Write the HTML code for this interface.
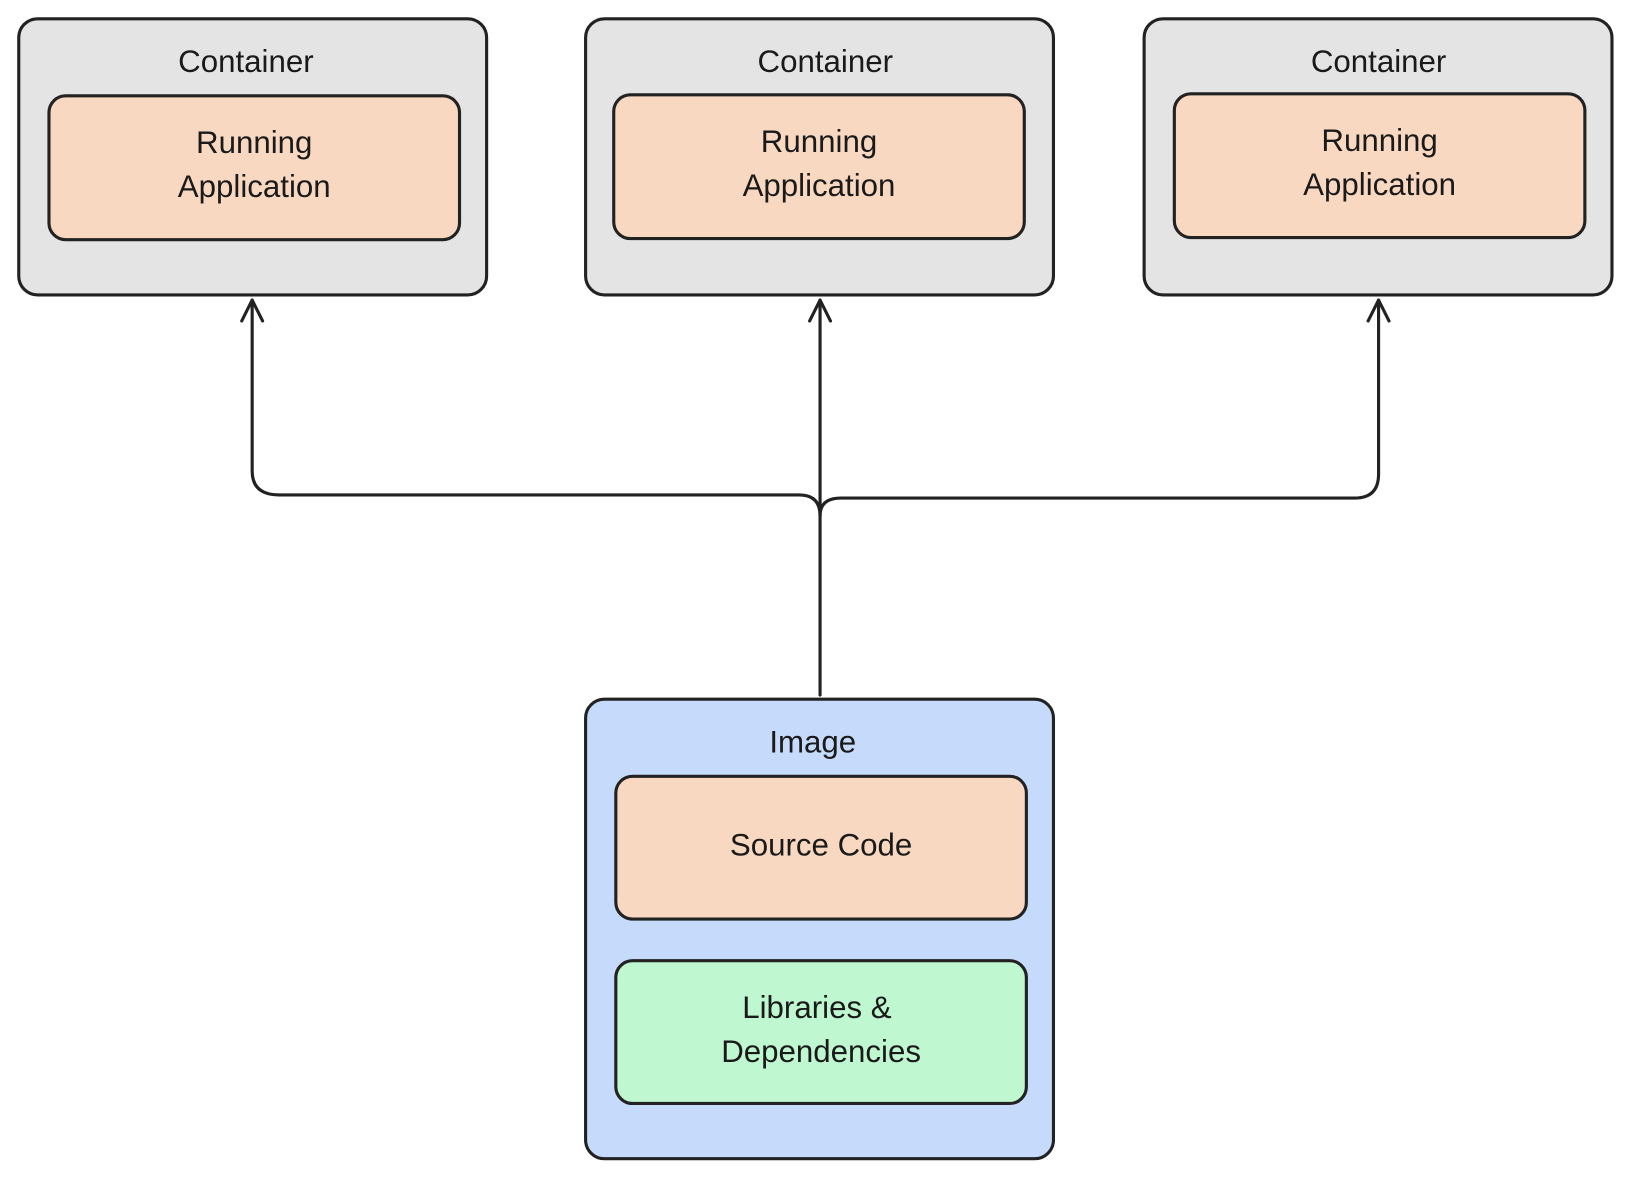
<!DOCTYPE html>
<html><head><meta charset="utf-8"><style>
html,body{margin:0;padding:0;background:#fff;}
svg{display:block;}
text{font-family:"Liberation Sans",sans-serif;font-size:30px;fill:#1a1a1a;text-anchor:middle;}
</style></head><body>
<svg width="1634" height="1181" viewBox="0 0 1634 1181" xmlns="http://www.w3.org/2000/svg">
<g transform="scale(1.042)">
<g stroke="#222" stroke-width="3" stroke-linejoin="round">
<rect x="18" y="18" width="449" height="265" rx="18" fill="#e4e4e4"/>
<rect x="562" y="18" width="449" height="265" rx="18" fill="#e4e4e4"/>
<rect x="1098" y="18" width="449" height="265" rx="18" fill="#e4e4e4"/>
<rect x="47" y="92" width="394" height="138" rx="16" fill="#f8d8c1"/>
<rect x="589" y="91" width="394" height="138" rx="16" fill="#f8d8c1"/>
<rect x="1127" y="90" width="394" height="138" rx="16" fill="#f8d8c1"/>
<rect x="562" y="671" width="449" height="441" rx="18" fill="#c6dbfb"/>
<rect x="591" y="745" width="394" height="137" rx="16" fill="#f8d8c1"/>
<rect x="591" y="922" width="394" height="137" rx="16" fill="#bef7d0"/>
</g>
<g stroke="#222" stroke-width="3" fill="none" stroke-linecap="round" stroke-linejoin="round">
<path d="M787 667 L787 495"/>
<path d="M787 495 Q787 475 767 475 L268 475 Q242 475 242 452 L242 288"/>
<path d="M787 495 Q787 478 807 478 L1300 478 Q1323 478 1323 455 L1323 288"/>
<path d="M787 495 L787 288"/>
<path d="M232 308 L242 288 L252 308"/>
<path d="M777 308 L787 288 L797 308"/>
<path d="M1313 308 L1323 288 L1333 308"/>
</g>
<text x="236" y="69">Container</text>
<text x="792" y="69">Container</text>
<text x="1323" y="69">Container</text>
<text x="244" y="147">Running</text>
<text x="244" y="189">Application</text>
<text x="786" y="146">Running</text>
<text x="786" y="188">Application</text>
<text x="1324" y="145">Running</text>
<text x="1324" y="187">Application</text>
<text x="780" y="722">Image</text>
<text x="788" y="821">Source Code</text>
<text x="784" y="977">Libraries &amp;</text>
<text x="788" y="1019">Dependencies</text>
</g>
</svg>
</body></html>
